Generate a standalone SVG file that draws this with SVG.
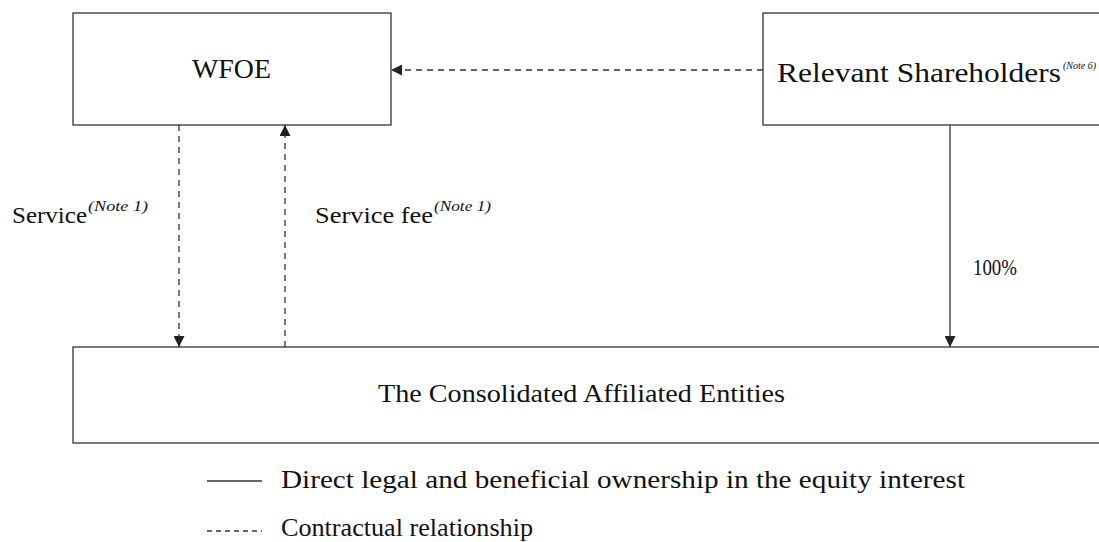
<svg xmlns="http://www.w3.org/2000/svg" width="1099" height="542" viewBox="0 0 1099 542">
<style>
.box{fill:#fff;stroke:#333;stroke-width:1.3}
.t{font-family:"Liberation Serif","Times New Roman",serif;fill:#111}
.n{font-family:"Liberation Serif","Times New Roman",serif;font-style:italic;fill:#111}
.solid{stroke:#333;stroke-width:1.3;fill:none}
.dash{stroke:#333;stroke-width:1.3;fill:none;stroke-dasharray:6 5}
</style>
<defs>
<marker id="ah" viewBox="0 0 10 10" refX="10" refY="5" markerWidth="11" markerHeight="11" markerUnits="userSpaceOnUse" orient="auto">
<path d="M0,0 L10,5 L0,10 Z" fill="#222"/>
</marker>
</defs>
<rect width="1099" height="542" fill="#fff"/>
<g id="wfoe">
<rect class="box" x="73" y="13" width="318" height="112"/>
<text class="t" x="192" y="78" font-size="27" textLength="79" lengthAdjust="spacingAndGlyphs">WFOE</text>
</g>
<g id="shareholders">
<rect class="box" x="763" y="13" width="340" height="112"/>
<text class="t" x="777" y="82" font-size="27" textLength="284" lengthAdjust="spacingAndGlyphs">Relevant Shareholders</text>
<text class="n" x="1063" y="69" font-size="10">(Note 6)</text>
</g>
<g id="entities">
<rect class="box" x="73" y="347" width="1030" height="96"/>
<text class="t" x="378" y="402" font-size="26" textLength="407" lengthAdjust="spacingAndGlyphs">The Consolidated Affiliated Entities</text>
</g>
<g id="connectors">
<line class="dash" x1="763" y1="70" x2="391" y2="70" marker-end="url(#ah)"/>
<line class="dash" x1="179" y1="125" x2="179" y2="347" marker-end="url(#ah)"/>
<line class="dash" x1="285" y1="347" x2="285" y2="125" marker-end="url(#ah)"/>
<line class="solid" x1="950" y1="125" x2="950" y2="347" marker-end="url(#ah)"/>
</g>
<g id="labels">
<text class="t" x="12" y="223" font-size="24" textLength="75" lengthAdjust="spacingAndGlyphs">Service</text>
<text class="n" x="88" y="211" font-size="14" textLength="60" lengthAdjust="spacingAndGlyphs">(Note 1)</text>
<text class="t" x="315" y="223" font-size="24" textLength="118" lengthAdjust="spacingAndGlyphs">Service fee</text>
<text class="n" x="434" y="211" font-size="14" textLength="57" lengthAdjust="spacingAndGlyphs">(Note 1)</text>
<text class="t" x="973" y="275" font-size="24" textLength="44" lengthAdjust="spacingAndGlyphs">100%</text>
</g>
<g id="legend">
<line class="solid" x1="207" y1="481" x2="262" y2="481"/>
<text class="t" x="281" y="488" font-size="25" textLength="684" lengthAdjust="spacingAndGlyphs">Direct legal and beneficial ownership in the equity interest</text>
<line class="solid" x1="207" y1="531" x2="262" y2="531" stroke-dasharray="5 4" stroke-width="1"/>
<text class="t" x="281" y="536" font-size="25" textLength="252" lengthAdjust="spacingAndGlyphs">Contractual relationship</text>
</g>
</svg>
